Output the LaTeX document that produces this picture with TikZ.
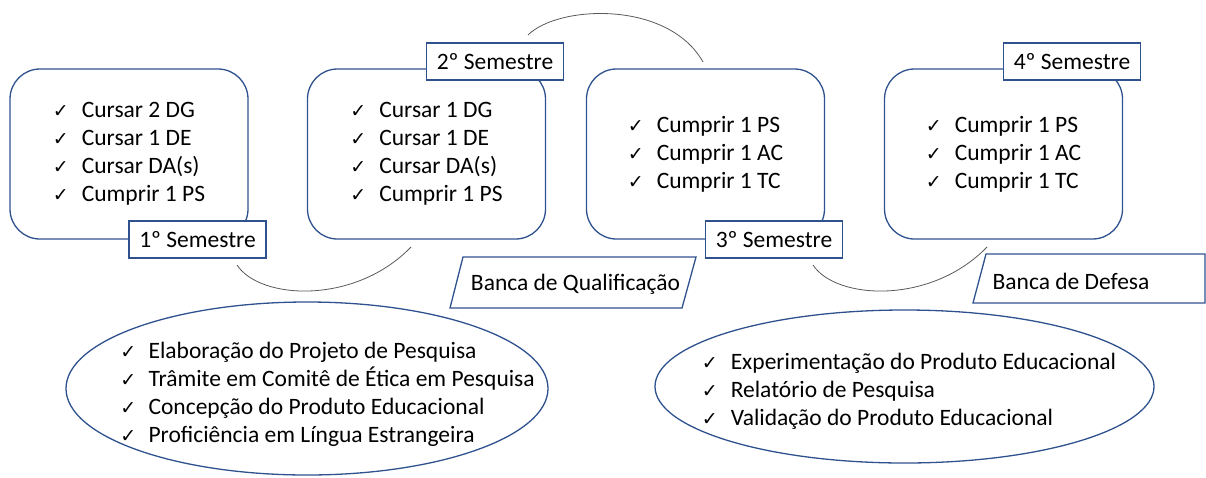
\documentclass[tikz,border=0pt]{standalone}
\usepackage{fontspec}
\setmainfont{Carlito}
\newfontfamily\symfont{DejaVu Sans}
\usetikzlibrary{shapes.geometric}
\definecolor{boxblue}{HTML}{2F528F}
\definecolor{arcgray}{HTML}{595959}
\newcommand{\chk}[1][13pt]{{\symfont\fontsize{19}{19}\selectfont ✓}\hspace{#1}}

\begin{document}
\begin{tikzpicture}[x=1pt, y=-1pt,
    every node/.style={font=\fontsize{23.5}{28}\selectfont},
    semester/.style={draw=boxblue, line width=1.3pt, rounded corners=30pt, minimum width=238pt, minimum height=170pt, align=left, inner sep=0pt},
    tag/.style={draw=boxblue, line width=1.3pt, fill=white, minimum width=137pt, minimum height=37pt, inner sep=0pt},
    goal/.style={draw=boxblue, line width=1.3pt, ellipse, inner sep=0pt},
    banca/.style={draw=boxblue, line width=1.3pt},
    link/.style={draw=arcgray, line width=0.8pt}]
    \useasboundingbox (0,0) rectangle (1206,477);

    % semesters
    \node (s1) at (129,154) [semester] {\chk Cursar 2 DG\\ \chk Cursar 1 DE\\ \chk Cursar DA(s)\\ \chk Cumprir 1 PS};
    \node (s2) at (426.5,154) [semester] {\chk Cursar 1 DG\\ \chk Cursar 1 DE\\ \chk Cursar DA(s)\\ \chk Cumprir 1 PS};
    \node (s3) at (705.5,154) [semester] {\chk Cumprir 1 PS\\ \chk Cumprir 1 AC\\ \chk Cumprir 1 TC};
    \node (s4) at (1003.5,154) [semester] {\chk Cumprir 1 PS\\ \chk Cumprir 1 AC\\ \chk Cumprir 1 TC};

    \node (t1) at (197.5,239.5) [tag] {1º Semestre};
    \node (t2) at (495,61.5) [tag] {2º Semestre};
    \node (t3) at (774,239.5) [tag] {3º Semestre};
    \node (t4) at (1072,61.5) [tag] {4º Semestre};

    % arcs between the semesters
    \coordinate (a1) at (237,265);
    \coordinate (a2) at (411,247);
    \coordinate (a3) at (528,35);
    \coordinate (a4) at (703,62);
    \coordinate (a5) at (813,265);
    \coordinate (a6) at (987,247);
    \draw[link] (a1) .. controls (260,300) and (355,305) .. (a2);
    \draw[link] (a3) .. controls (558,5) and (668,0) .. (a4);
    \draw[link] (a5) .. controls (836,300) and (931,305) .. (a6);

    % bancas
    \draw[banca] (463,257) -- (696,257) -- (682,308) -- (450,308) -- cycle;
    \node (q) at (575.5,284) {Banca de Qualificação};
    \draw[banca] (986,254) -- (1205,254) -- (1205,303) -- (973,303) -- cycle;
    \node (d) at (1071,281) {Banca de Defesa};

    \node (e1) at (307,388.5) [goal, minimum width=482pt, minimum height=173pt] {};
    \node (g1) at (327.5,394) [align=left] {\chk[7pt] Elaboração do Projeto de Pesquisa\\ \chk[7pt] Trâmite em Comitê de Ética em Pesquisa\\ \chk[7pt] Concepção do Produto Educacional\\ \chk[7pt] Proficiência em Língua Estrangeira};
    \node (e2) at (904.5,386.5) [goal, minimum width=499pt, minimum height=153pt] {};
    \node (g2) at (909,391) [align=left] {\chk Experimentação do Produto Educacional\\ \chk Relatório de Pesquisa\\ \chk Validação do Produto Educacional};
\end{tikzpicture}
\end{document}
